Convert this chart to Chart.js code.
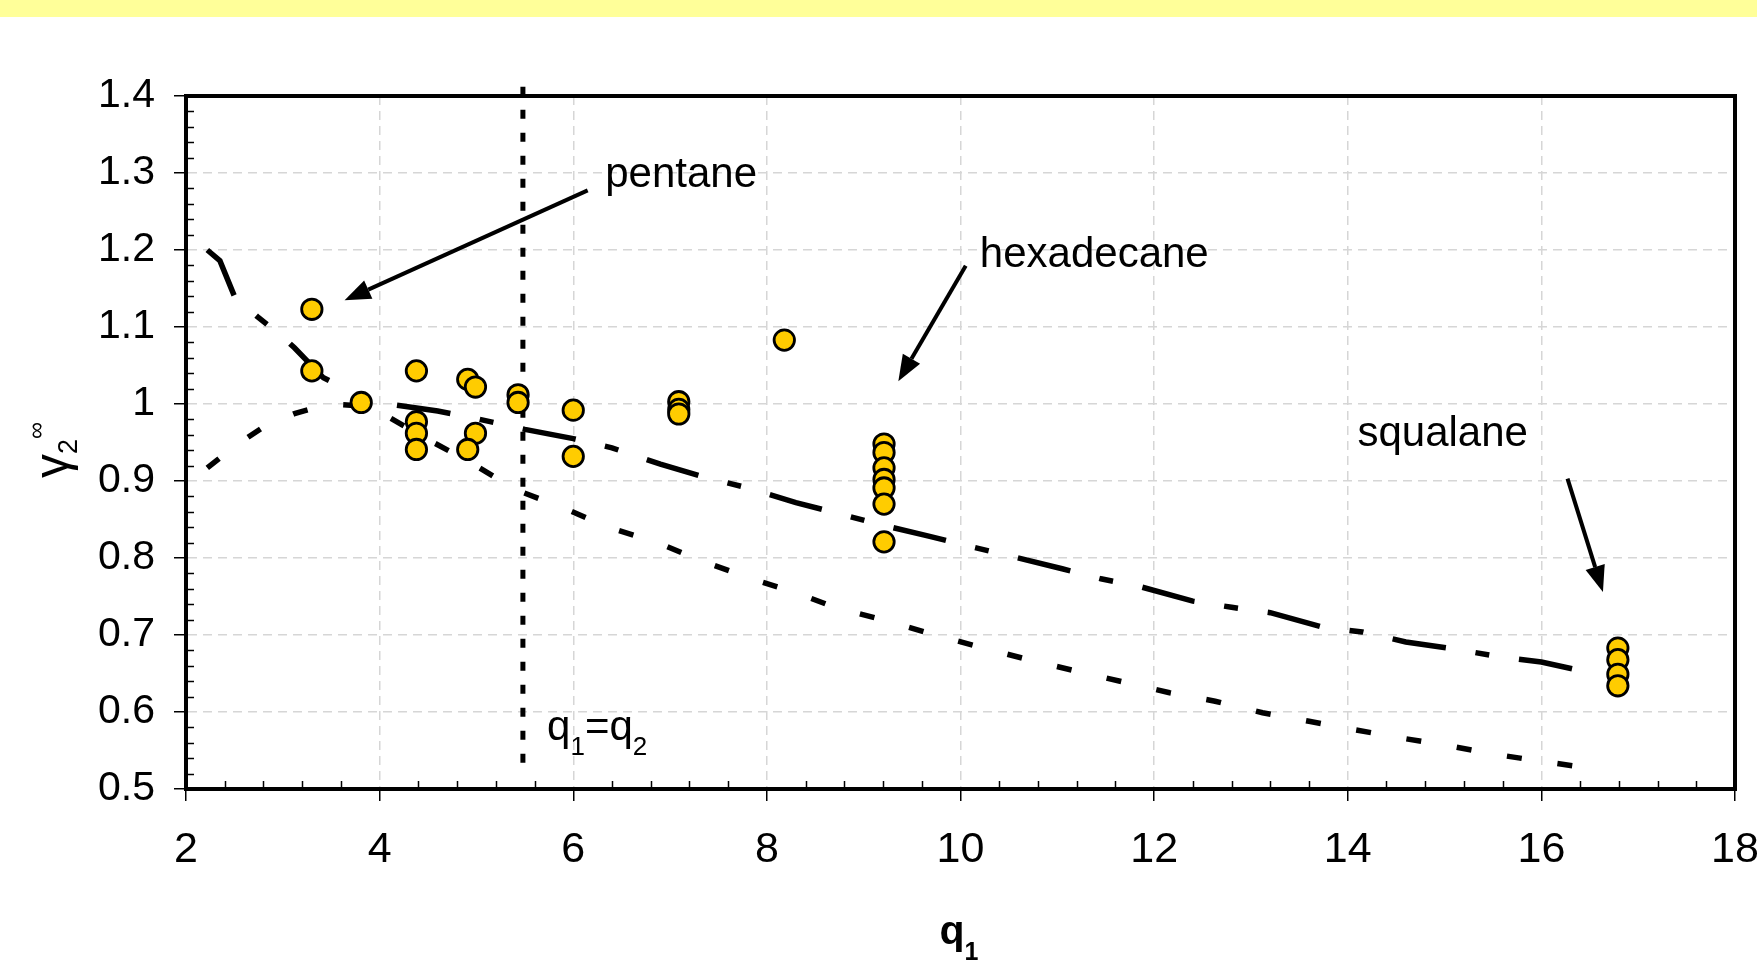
<!DOCTYPE html>
<html>
<head>
<meta charset="utf-8">
<title>gamma2 inf vs q1</title>
<script src="https://cdn.jsdelivr.net/npm/chart.js@4.4.1/dist/chart.umd.min.js"></script>
<style>
  html, body { margin: 0; padding: 0; background: #fff; }
  #wrap { width: 1757px; height: 971px; }
</style>
</head>
<body>
<div id="wrap"><canvas id="grafico" width="1757" height="971"></canvas></div>
<script>
// dados
const xTicks = [2, 4, 6, 8, 10, 12, 14, 16, 18];
const yTicks = [0.5, 0.6, 0.7, 0.8, 0.9, 1.0, 1.1, 1.2, 1.3, 1.4];

// pontos experimentais (círculos amarelos)
const q1Exp = [3.30, 3.30, 3.81, 4.38, 4.38, 4.38, 4.38, 4.91, 4.99, 4.99, 4.91,
  5.43, 5.43, 6.00, 6.00, 7.09, 7.09, 7.09, 8.18,
  9.21, 9.21, 9.21, 9.21, 9.21, 9.21, 9.21, 16.79, 16.79, 16.79, 16.79];
const gamaExp = [1.123, 1.043, 1.002, 1.043, 0.977, 0.962, 0.941, 1.032, 1.022, 0.962, 0.941,
  1.012, 1.002, 0.992, 0.932, 1.003, 0.993, 0.987, 1.083,
  0.948, 0.937, 0.917, 0.902, 0.891, 0.870, 0.821, 0.683, 0.668, 0.649, 0.634];

// curva do modelo que desce a partir de 1.2
const q1ModeloA = [2.22, 2.35, 2.50, 2.75, 3.00, 3.12, 3.42, 3.55, 3.80, 4.20, 4.60, 5.00, 5.50,
  6.00, 6.40, 6.90, 7.30, 7.80, 8.30, 8.70, 9.15, 9.65, 10.10, 10.50, 11.05, 11.45,
  11.85, 12.40, 12.80, 13.20, 13.75, 14.15, 14.60, 15.10, 15.55, 16.00, 16.50];
const gamaModeloA = [1.200, 1.186, 1.140, 1.112, 1.087, 1.073, 1.034, 1.026, 1.005, 0.998, 0.991,
  0.981, 0.967, 0.955, 0.943, 0.922, 0.907, 0.891, 0.872, 0.859, 0.844, 0.829, 0.815,
  0.803, 0.786, 0.773, 0.763, 0.744, 0.736, 0.729, 0.710, 0.704, 0.691, 0.682, 0.672,
  0.665, 0.651];

// curva do modelo que sobe de 0.92 e depois desce
const q1ModeloB = [2.22, 2.50, 2.81, 3.13, 3.27, 3.62, 3.90, 4.48, 4.90, 5.40, 5.88, 6.36,
  6.87, 7.33, 7.82, 8.30, 8.70, 9.25, 9.74, 10.24, 10.70, 11.20, 11.68, 12.16, 12.63,
  13.12, 13.60, 14.07, 14.56, 15.05, 15.52, 16.00, 16.50];
const gamaModeloB = [0.917, 0.945, 0.971, 0.988, 0.993, 0.999, 0.997, 0.955, 0.927, 0.889,
  0.866, 0.840, 0.820, 0.796, 0.774, 0.755, 0.736, 0.718, 0.700, 0.683, 0.668, 0.653,
  0.639, 0.625, 0.614, 0.599, 0.588, 0.577, 0.566, 0.556, 0.545, 0.536, 0.527];

// linha q1 = q2
const q1Igual = [5.48, 5.48];
const gamaIgual = [1.412, 0.518];

const pares = (xs, ys) => xs.map((x, i) => ({ x, y: ys[i] }));

// anotações (posição em coordenadas do gráfico)
const anotacoes = [
  { texto: 'pentane', x: 6.33, y: 1.282, seta: [6.149, 1.2775, 3.638, 1.1347] },
  { texto: 'hexadecane', x: 10.2, y: 1.1775, seta: [10.054, 1.1794, 9.358, 1.0295] },
  { texto: 'squalane', x: 14.1, y: 0.9457, seta: [16.27, 0.903, 16.636, 0.756] }
];

const FONTE = '"Liberation Sans", Arial, Helvetica, sans-serif';

function seta(ctx, x1, y1, x2, y2) {
  const ang = Math.atan2(y2 - y1, x2 - x1);
  const L = 26, W = 10;
  const bx = x2 - L * Math.cos(ang), by = y2 - L * Math.sin(ang);
  ctx.beginPath();
  ctx.moveTo(x1, y1);
  ctx.lineTo(bx, by);
  ctx.stroke();
  ctx.beginPath();
  ctx.moveTo(x2, y2);
  ctx.lineTo(bx + W * Math.sin(ang), by - W * Math.cos(ang));
  ctx.lineTo(bx - W * Math.sin(ang), by + W * Math.cos(ang));
  ctx.closePath();
  ctx.fill();
}

// texto com partes em subscrito/sobrescrito: [texto, tamanho, deslocamento, negrito]
function textoComposto(ctx, partes, x, y) {
  let cx = x;
  partes.forEach(([t, tam, dy, bold]) => {
    ctx.font = (bold ? 'bold ' : '') + tam + 'px ' + FONTE;
    ctx.fillText(t, cx, y + dy);
    cx += ctx.measureText(t).width;
  });
}

const decoracoes = {
  id: 'decoracoes',
  beforeDraw(chart) {
    const ctx = chart.ctx;
    ctx.save();
    ctx.fillStyle = '#ffffff';
    ctx.fillRect(0, 0, chart.width, chart.height);
    ctx.fillStyle = '#ffff99';
    ctx.fillRect(0, 0, chart.width, 17);
    ctx.restore();
  },
  beforeDatasetsDraw(chart) {
    const ctx = chart.ctx;
    const { left, right, top, bottom } = chart.chartArea;
    const sx = chart.scales.x, sy = chart.scales.y;
    ctx.save();
    // marcas menores para dentro
    ctx.strokeStyle = '#000';
    ctx.lineWidth = 1.5;
    ctx.beginPath();
    for (let i = 1; i < 40; i++) {
      if (i % 5 === 0) continue;
      const px = Math.round(sx.getPixelForValue(2 + i * 0.4)) + 0.5;
      ctx.moveTo(px, bottom);
      ctx.lineTo(px, bottom - 8);
    }
    for (let i = 1; i < 45; i++) {
      if (i % 5 === 0) continue;
      const py = Math.round(sy.getPixelForValue(0.5 + i * 0.02)) + 0.5;
      ctx.moveTo(left, py);
      ctx.lineTo(left + 8, py);
    }
    ctx.stroke();
    // moldura
    ctx.lineWidth = 4;
    ctx.strokeRect(left, top, right - left, bottom - top);
    ctx.restore();
  },
  afterDatasetsDraw(chart) {
    const ctx = chart.ctx;
    const sx = chart.scales.x, sy = chart.scales.y;
    ctx.save();
    ctx.fillStyle = '#000';
    ctx.strokeStyle = '#000';
    ctx.lineWidth = 4;
    ctx.textAlign = 'left';
    ctx.textBaseline = 'alphabetic';
    ctx.font = '42px ' + FONTE;
    anotacoes.forEach(a => {
      ctx.fillText(a.texto, sx.getPixelForValue(a.x), sy.getPixelForValue(a.y));
      const [x1, y1, x2, y2] = a.seta;
      seta(ctx, sx.getPixelForValue(x1), sy.getPixelForValue(y1),
        sx.getPixelForValue(x2), sy.getPixelForValue(y2));
    });
    // q1=q2
    textoComposto(ctx, [['q', 42, 0], ['1', 26, 15], ['=', 42, 0], ['q', 42, 0], ['2', 26, 15]],
      sx.getPixelForValue(5.73), sy.getPixelForValue(0.5632));
    ctx.restore();
  },
  afterDraw(chart) {
    const ctx = chart.ctx;
    const { left, right } = chart.chartArea;
    ctx.save();
    ctx.fillStyle = '#000';
    ctx.textAlign = 'left';
    ctx.textBaseline = 'alphabetic';
    // título do eixo x
    const cx = (left + right) / 2;
    textoComposto(ctx, [['q', 41, 0, true], ['1', 25, 16, true]], cx - 21, 944);
    // título do eixo y (rotacionado)
    ctx.translate(68, 478);
    ctx.rotate(-Math.PI / 2);
    textoComposto(ctx, [['γ', 48, 0], ['2', 27, 9], ['∞', 24, -24]], 0, 0);
    ctx.restore();
  }
};

const gradeComum = {
  color: '#d6d6d6',
  lineWidth: 1.5,
  tickLength: 12,
  tickColor: '#000',
  tickWidth: 1.5,
  tickBorderDash: []
};
const bordaComum = { display: true, color: '#000', width: 4, dash: [9, 6] };

new Chart(document.getElementById('grafico').getContext('2d'), {
  type: 'scatter',
  data: {
    datasets: [
      {
        label: 'experimental',
        data: pares(q1Exp, gamaExp),
        order: 0,
        pointRadius: 10.2,
        pointHoverRadius: 10.2,
        pointBorderWidth: 2.8,
        pointBackgroundColor: '#ffcc00',
        pointBorderColor: '#000'
      },
      {
        label: 'modelo A',
        data: pares(q1ModeloA, gamaModeloA),
        order: 1,
        showLine: true,
        pointRadius: 0,
        borderColor: '#000',
        borderWidth: 5.5,
        borderDash: [54, 30, 14, 30],
        borderCapStyle: 'butt'
      },
      {
        label: 'modelo B',
        data: pares(q1ModeloB, gamaModeloB),
        order: 1,
        showLine: true,
        pointRadius: 0,
        borderColor: '#000',
        borderWidth: 5.5,
        borderDash: [15, 36],
        borderCapStyle: 'butt'
      },
      {
        label: 'q1=q2',
        data: pares(q1Igual, gamaIgual),
        order: 1,
        showLine: true,
        pointRadius: 0,
        borderColor: '#000',
        borderWidth: 5,
        borderDash: [9, 14],
        borderCapStyle: 'butt',
        clip: false
      }
    ]
  },
  options: {
    responsive: false,
    animation: false,
    devicePixelRatio: 1,
    layout: { padding: { top: 96, right: 22, left: 0, bottom: 0 } },
    plugins: { legend: { display: false }, tooltip: { enabled: false } },
    events: [],
    scales: {
      x: {
        type: 'linear',
        min: 2,
        max: 18,
        afterBuildTicks: s => { s.ticks = xTicks.map(v => ({ value: v })); },
        afterFit: s => { s.height = 182; s.paddingLeft = 0; s.paddingRight = 0; },
        ticks: {
          color: '#000',
          font: { family: FONTE, size: 43 },
          padding: 23,
          maxRotation: 0,
          autoSkip: false,
          callback: v => String(v)
        },
        grid: gradeComum,
        border: bordaComum
      },
      y: {
        type: 'linear',
        min: 0.5,
        max: 1.4,
        afterBuildTicks: s => { s.ticks = yTicks.map(v => ({ value: v })); },
        afterFit: s => { s.width = 186; s.paddingTop = 0; s.paddingBottom = 0; },
        ticks: {
          color: '#000',
          font: { family: FONTE, size: 41 },
          padding: 19,
          autoSkip: false,
          callback: v => String(Number(v.toFixed(1)))
        },
        grid: gradeComum,
        border: bordaComum
      }
    }
  },
  plugins: [decoracoes]
});
</script>
</body>
</html>
